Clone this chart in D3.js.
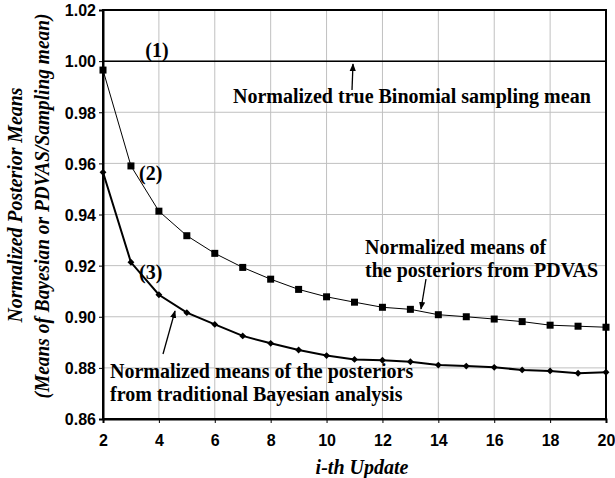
<!DOCTYPE html>
<html>
<head>
<meta charset="utf-8">
<script src="https://cdn.jsdelivr.net/npm/d3@7"></script>
<style>
  body { margin: 0; background: #fff; }
  .tick text { font-family: Arial, "Liberation Sans", sans-serif; font-weight: bold; font-size: 16px; }
  .note { font-family: "Times New Roman", "Liberation Serif", serif; font-weight: bold; font-size: 20px; }
  .title { font-family: "Times New Roman", "Liberation Serif", serif; font-weight: bold; font-style: italic; font-size: 20px; }
</style>
</head>
<body>
<svg id="chart" width="615" height="478"></svg>
<script>
var updates = [2, 3, 4, 5, 6, 7, 8, 9, 10, 11, 12, 13, 14, 15, 16, 17, 18, 19, 20];
var pdvasMeans = [0.9965, 0.959, 0.9413, 0.9317, 0.9248, 0.9193, 0.9147, 0.9107, 0.9078, 0.9057,
                  0.9037, 0.9029, 0.9008, 0.9000, 0.8991, 0.8981, 0.8967, 0.8963, 0.8959];
var bayesMeans = [0.9565, 0.9213, 0.9086, 0.9016, 0.8970, 0.8925, 0.8896, 0.8870, 0.8848, 0.8833,
                  0.8830, 0.8824, 0.8811, 0.8807, 0.8802, 0.8792, 0.8788, 0.8779, 0.8783];
var trueMean = 1.0;
var xTicks = [2, 4, 6, 8, 10, 12, 14, 16, 18, 20];
var yTicks = [0.86, 0.88, 0.90, 0.92, 0.94, 0.96, 0.98, 1.00, 1.02];

var margin = {top: 10, right: 9, bottom: 59, left: 103};
var svg = d3.select('#chart');
var width = +svg.attr('width') - margin.left - margin.right;
var height = +svg.attr('height') - margin.top - margin.bottom;

var x = d3.scaleLinear().domain([2, 20]).range([0, width]);
var y = d3.scaleLinear().domain([0.86, 1.02]).range([height, 0]);

var g = svg.append('g').attr('transform', 'translate(' + margin.left + ',' + margin.top + ')');

// grid
g.append('g')
  .selectAll('line')
  .data(xTicks)
  .enter().append('line')
  .attr('x1', d => x(d)).attr('x2', d => x(d))
  .attr('y1', 0).attr('y2', height)
  .attr('stroke', '#c0c0c0').attr('stroke-width', 1);

g.append('g')
  .selectAll('line')
  .data(yTicks)
  .enter().append('line')
  .attr('x1', 0).attr('x2', width)
  .attr('y1', d => y(d)).attr('y2', d => y(d))
  .attr('stroke', '#c0c0c0').attr('stroke-width', 1);

// frame
g.append('rect')
  .attr('width', width).attr('height', height)
  .attr('fill', 'none').attr('stroke', '#000').attr('stroke-width', 2);

// axes
var xAxis = g.append('g')
  .attr('transform', 'translate(0,' + height + ')')
  .call(d3.axisBottom(x).tickValues(xTicks).tickSize(4).tickPadding(12).tickFormat(d3.format('d')));
xAxis.select('.domain').attr('stroke-width', 2);
xAxis.selectAll('.tick text').attr('fill', '#000');

var yAxis = g.append('g')
  .call(d3.axisLeft(y).tickValues(yTicks).tickSize(4).tickPadding(3).tickFormat(d3.format('.2f')));
yAxis.select('.domain').attr('stroke-width', 2);
yAxis.selectAll('.tick text').attr('fill', '#000').attr('dy', '0.36em');

// true mean line
g.append('line')
  .attr('x1', x(2)).attr('x2', x(20))
  .attr('y1', y(trueMean)).attr('y2', y(trueMean))
  .attr('stroke', '#000').attr('stroke-width', 1.5);

var line = d3.line().x((d, i) => x(updates[i])).y(d => y(d));

g.append('path').datum(pdvasMeans)
  .attr('d', line).attr('fill', 'none').attr('stroke', '#000').attr('stroke-width', 1);

g.append('path').datum(bayesMeans)
  .attr('d', line).attr('fill', 'none').attr('stroke', '#000').attr('stroke-width', 2);

g.selectAll('rect.sq')
  .data(pdvasMeans)
  .enter().append('rect')
  .attr('class', 'sq')
  .attr('x', (d, i) => x(updates[i]) - 3.5)
  .attr('y', d => y(d) - 3.5)
  .attr('width', 7).attr('height', 7)
  .attr('fill', '#000');

g.selectAll('path.dm')
  .data(bayesMeans)
  .enter().append('path')
  .attr('class', 'dm')
  .attr('d', d3.symbol().type(d3.symbolDiamond2).size(30))
  .attr('transform', (d, i) => 'translate(' + x(updates[i]) + ',' + y(d) + ')')
  .attr('fill', '#000');

// annotations
var notes = [
  {t: '(1)', x: 157, y: 57, anchor: 'middle'},
  {t: 'Normalized true Binomial sampling mean', x: 233, y: 103},
  {t: '(2)', x: 139, y: 180},
  {t: '(3)', x: 139, y: 279},
  {t: 'Normalized means of', x: 365, y: 254},
  {t: 'the posteriors from PDVAS', x: 365, y: 277},
  {t: 'Normalized means of the posteriors', x: 110, y: 378},
  {t: 'from traditional Bayesian analysis', x: 110, y: 401}
];

svg.selectAll('text.note')
  .data(notes)
  .enter().append('text')
  .attr('class', 'note')
  .attr('x', d => d.x).attr('y', d => d.y)
  .attr('text-anchor', d => d.anchor || 'start')
  .text(d => d.t);

svg.append('defs').append('marker')
  .attr('id', 'head')
  .attr('viewBox', '0 0 10 10')
  .attr('refX', 9).attr('refY', 5)
  .attr('markerWidth', 6).attr('markerHeight', 6)
  .attr('orient', 'auto')
  .append('path').attr('d', 'M0,1L10,5L0,9z').attr('fill', '#000');

var arrows = [
  [352, 90, 353, 64],
  [426, 279, 421, 309],
  [163, 354, 175, 311]
];
svg.selectAll('line.arrow')
  .data(arrows)
  .enter().append('line')
  .attr('x1', d => d[0]).attr('y1', d => d[1])
  .attr('x2', d => d[2]).attr('y2', d => d[3])
  .attr('stroke', '#000').attr('stroke-width', 1.3)
  .attr('marker-end', 'url(#head)');

// axis titles
svg.append('text')
  .attr('class', 'title')
  .attr('x', 362).attr('y', 474)
  .attr('text-anchor', 'middle')
  .text('i-th Update');

svg.append('text')
  .attr('class', 'title')
  .attr('transform', 'translate(22,205) rotate(-90)')
  .attr('text-anchor', 'middle')
  .attr('textLength', 235).attr('lengthAdjust', 'spacingAndGlyphs')
  .text('Normalized Posterior Means');

svg.append('text')
  .attr('class', 'title')
  .attr('transform', 'translate(49,206) rotate(-90)')
  .attr('text-anchor', 'middle')
  .attr('textLength', 385).attr('lengthAdjust', 'spacingAndGlyphs')
  .text('(Means of Bayesian or PDVAS/Sampling mean)');
</script>
</body>
</html>
